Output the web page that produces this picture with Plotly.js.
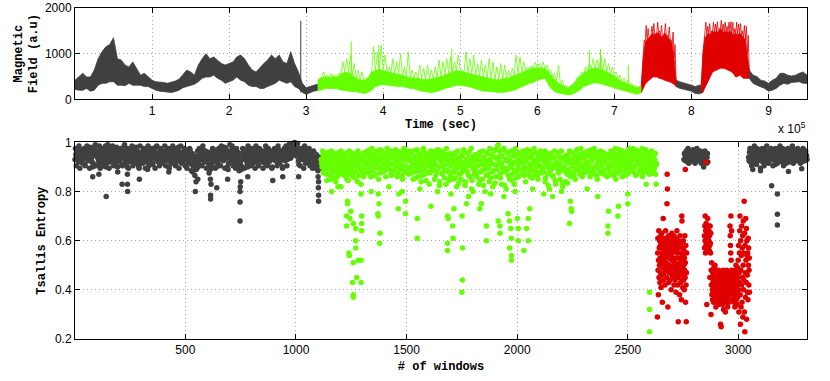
<!DOCTYPE html>
<html><head><meta charset="utf-8">
<script src="https://cdn.plot.ly/plotly-3.0.1.min.js"></script>
<style>html,body{margin:0;padding:0;background:#fff}#chart{width:830px;height:381px}</style>
</head><body><div id="chart"></div>
<script>
// ---------- TOP PANEL: magnetic field (time in units of 1e5 samples) ----------
// envelopes: lo = lower edge, band = top of solid band, peak = spike tops
const gray1Start = 0, gray1Dt = 0.05;
const gray1Lo = [220,200,200,240,180,200,310,350,350,385, 385,310,310,300,350,310,310,310,280,280,
  240,200,180,170,150,150,170,200,255,280, 310,330,385,460,490,490,530,460,420,350,
  385,420,490,420,385,310,280,280,240,240, 280,310,350,420,385,350,385,280,240,150, 110,150,180,200];
const gray1Hi = [420,500,570,490,490,640,890,1040,1150,1200, 1350,890,860,750,710,820,680,530,570,490,
  420,385,370,370,350,370,400,440,530,640, 600,530,750,890,1000,890,930,860,785,750,
  785,820,930,970,890,750,640,600,680,785, 860,970,890,970,820,785,1040,785,600,350, 255,280,310,330];

const greenStart = 3.15, greenDt = 0.05;
const greenLo = [200,200,240,240,255,240,200,200,180,180, 165,150,130,150,200,280,310,330,310,300,
  280,280,280,255,240,230,200,180,170,150, 150,170,200,240,255,280,310,310,300,280,
  255,240,200,180,180,170,150,150,150,170, 180,200,240,280,310,350,370,420,440,460,
  310,200,150,130,110,95,110,150,200,280, 310,350,370,350,330,310,280,255,225,200, 180,150,130,110,150];
const greenBand = [420,480,500,480,500,480,560,590,590,540, 460,430,410,460,600,630,660,630,600,580,
  560,550,530,500,480,460,450,440,430,440, 450,480,500,530,560,600,630,620,600,570,
  550,530,500,480,460,450,430,430,440,460, 480,530,550,590,630,660,690,690,680,680,
  600,480,390,330,280,250,300,400,500,570, 630,670,690,670,650,610,560,510,440,390, 350,310,280,250,300];
const greenPeak = [420,600,530,570,530,570,820,890,970,785, 640,600,460,500,1150,1040,1180,970,710,890,
  820,1000,710,1040,640,600,750,680,750,640, 710,860,820,890,930,820,970,640,1040,890,
  970,785,860,750,890,820,710,785,750,640, 680,970,930,820,710,750,820,785,820,750,
  640,570,750,420,310,280,350,490,600,710, 785,890,860,970,890,785,710,600,530,460, 420,350,310,280,310];

const red1Start = 7.35, red1Dt = 0.025;
const red1Lo = [150,250,330,380,420,460,490,490,490,470,460,440,420,410,400,380,350,330,280];
const red1Band = [300,900,1250,1300,1350,1400,1450,1400,1450,1450,1400,1350,1450,1400,1350,1300,1200,900,420];
const red1Peak = [600,1300,1620,1550,1300,1600,1660,1450,1690,1500,1620,1350,1660,1400,1585,1300,1475,1200,420];

const gray2Start = 7.8, gray2Dt = 0.05;
const gray2Lo = [280,240,220,200,180,130,120,150];
const gray2Hi = [420,385,350,330,310,280,310,300];

const red2Start = 8.125, red2Dt = 0.025;
const red2Lo = [150,160,250,330,420,500,600,620,640,660,680,680,680,660,640,620,600,550,490,500,530,500,460,460,460,460];
const red2Band = [300,1000,1350,1400,1450,1400,1500,1450,1500,1450,1550,1500,1450,1500,1450,1500,1450,1400,1450,1400,1450,1400,1350,1300,1000,640];
const red2Peak = [400,1260,1690,1600,1660,1500,1690,1650,1700,1550,1730,1650,1690,1600,1690,1700,1690,1550,1690,1650,1660,1500,1620,1600,1400,640];

const gray3Start = 8.75, gray3Dt = 0.05;
const gray3Lo = [460,350,310,280,240,180,200,240,310,350,330,370,385,385,350,350];
const gray3Hi = [640,530,500,420,400,350,420,460,570,570,530,510,530,570,600,530];

// isolated tall spikes
const spikeT = [2.93, 3.585, 3.944, 4.89, 6.675, 6.82, 7.18];
const spikeV = [1720, 1270, 1185, 1110, 1075, 1100, 760];

// ---------- BOTTOM PANEL: Tsallis entropy per window (values x100) ----------
const grayAStart = 1, grayAStep = 4;
const grayA = [].concat(
 [93,95,94,96,92,95,97,94,93,96,95,91,94,97,96,93,95,98,94,92,90,95,97,99,96],
 [94,96,91,95,97,94,92,96,95,93,90,97,99,95,92,96,94,97,95,93,91,96,98,90,94],
 [95,93,97,91,94,96,99,92,95,90,93,92,96,94,97,93,95,92,96,98,94,93,90,91,95],
 [96,93,95,97,94,92,95,89,96,94,97,93,95,91,94,96,98,93,95,92,94,97,95,93,96],
 [94,96,93,95,97,94,90,95,92,96,94,97,93,95,91,96,94,98,95,93,96,94,92,95,97],
 [95,93,96,94,92,97,95,91,88,94,93,90,89,92,90,94,96,93,95,97,94,92,96,95,93],
 [94,96,90,89,91,93,95,97,94,92,90,96,95,93,97,94,96,95,93,98,95,94,90,89,96],
 [99,95,93,97,94,96,92,95,93,96,91,90,92,89,90,94,96,93,95,97,90,94,92,96,95],
 [93,96,94,97,95,92,94,96,93,97,95,94,92,96,95,93,97,94,96,92,95,93,94,90,96],
 [94,96,93,95,92,97,94,96,95,93,90,95,97,94,96,93,95,98,96,94,97,99,95,100,97],
 [96,98,95,91,97,94,96,93,95,97,94,96,93,95,92,96,94,91,95,93,96,94,92,95,90],
 [93,91,94]);
const grayA2Start = 3, grayA2Step = 4;
const grayA2 = [].concat(
 [97.5,90.5,95.5,92.5,98.5,89.5,94.5,96.5,91.5,93.5,97.5,90.5,95.5,98.5,92.5,94.5,89.5,96.5,93.5,97.5,91.5,95.5,98.5,90.5,94.5],
 [96.5,92.5,98.5,89.5,95.5,93.5,97.5,90.5,94.5,98.5,91.5,96.5,93.5,89.5,97.5,95.5,92.5,98.5,90.5,94.5,96.5,91.5,97.5,93.5,95.5],
 [92.5,97.5,94.5,90.5,96.5,98.5,93.5,91.5,95.5,97.5,89.5,94.5,96.5,92.5,98.5,90.5,95.5,93.5,97.5,91.5,96.5,94.5,89.5,98.5,92.5],
 [95.5,91.5,97.5,93.5,89.5,96.5,94.5,98.5,90.5,92.5,95.5,97.5,91.5,94.5,96.5,89.5,93.5,98.5,92.5,95.5,90.5,97.5,94.5,96.5,91.5],
 [93.5,98.5,90.5,95.5,92.5,97.5,89.5,94.5,96.5,91.5,98.5,93.5,95.5,90.5,97.5,92.5,96.5,89.5,94.5,98.5,91.5,95.5,93.5,97.5,90.5],
 [96.5,89.5,94.5,91.5,97.5,93.5,88.5,95.5,90.5,92.5,86.5,94.5,89.5,96.5,91.5,97.5,93.5,95.5,90.5,98.5,94.5,92.5,96.5,89.5,95.5],
 [91.5,87.5,93.5,90.5,95.5,97.5,92.5,94.5,89.5,96.5,93.5,91.5,97.5,95.5,90.5,98.5,94.5,92.5,96.5,89.5,97.5,93.5,95.5,91.5,94.5],
 [96.5,92.5,98.5,90.5,95.5,93.5,89.5,97.5,91.5,94.5,88.5,92.5,90.5,95.5,97.5,93.5,89.5,96.5,94.5,91.5,98.5,92.5,95.5,90.5,97.5],
 [94.5,91.5,96.5,89.5,98.5,93.5,95.5,90.5,97.5,92.5,94.5,96.5,89.5,95.5,91.5,98.5,93.5,90.5,97.5,94.5,92.5,96.5,89.5,95.5,93.5],
 [97.5,92.5,95.5,90.5,98.5,94.5,91.5,96.5,93.5,89.5,95.5,97.5,92.5,98.5,90.5,96.5,94.5,99.5,93.5,97.5,98.5,95.5,99.5,96.5,98.5],
 [94.5,99.5,92.5,96.5,90.5,97.5,93.5,95.5,89.5,98.5,91.5,94.5,96.5,92.5,97.5,90.5,95.5,93.5,89.5,96.5,91.5,94.5,89.5,92.5,88.5],
 [91.5,89.5]);
const grayBStart = 2754, grayBStep = 4;
const grayB = [93,95,94,96,92,95,94,96,93,95,97,94,92,95,96,93,94,96,95,93,92,95,94,96,93,95,94,92];
const grayB2Start = 2756, grayB2Step = 4;
const grayB2 = [95.5,92.5,96.5,93.5,97.5,91.5,94.5,95.5,92.5,96.5,93.5,95.5,91.5,94.5,97.5,92.5,95.5,93.5,96.5,91.5,94.5,95.5,92.5,96.5,94.5,91.5,95.5];
const grayCStart = 3046, grayCStep = 4;
const grayC = [94,96,92,95,97,93,95,94,96,91,95,97,94,93,96,95,92,94,97,95,93,96,94,92,95,97,94,96,93,95,
  91,94,96,95,97,93,94,96,92,95,94,97,93,96,95,94,92,95,97,96,93,94,95,97,94,96,93,95,94,96,92,95,97,94,96,95,93];
const grayC2Start = 3048, grayC2Step = 4;
const grayC2 = [92.5,97.5,94.5,90.5,96.5,93.5,98.5,91.5,95.5,97.5, 92.5,94.5,96.5,89.5,93.5,97.5,95.5,90.5,96.5,92.5,
  98.5,94.5,91.5,96.5,93.5,97.5,95.5,90.5,94.5,92.5, 97.5,95.5,91.5,96.5,93.5,98.5,92.5,95.5,97.5,90.5,
  94.5,96.5,91.5,95.5,97.5,93.5,96.5,92.5,94.5,98.5, 91.5,95.5,96.5,93.5,92.5,97.5,94.5,96.5,91.5,95.5, 93.5,97.5,94.5,92.5,96.5,94.5];
const grayOutW = [81,109,142,194,214,238,239,238,292,425,545,548,556,614,614,616,613,642,691,747,747,747,748,750,782,895,940,1012,1102,1102,1101,1102,1100,
  3065,3100,3150,3176,3176,3176,3226,3286,2843];
const grayOutV = [86,87,78,88,83,83,80,87,85,88,80,84,85,77,78.5,83,85,81.5,85,68,75.7,80,82,84,86,84.5,86,86,76,78.5,81.5,84,86,
  89,88.5,82.4,79,70.8,66.4,88.2,89.3,90];

const greenStartW = 1114, greenStep = 4;
const greenVals = [].concat(
 [93,90,95,88,92,94,87,91,96,89,93,85,92,95,90,88,94,91,86,93,96,89,92,87,94],
 [90,95,88,92,85,94,91,87,96,89,93,86,91,95,88,92,84,94,90,87,95,89,93,86,92],
 [96,91,88,94,90,97,86,93,89,95,92,87,96,90,94,85,92,97,89,93,88,95,91,86,94],
 [92,96,89,94,87,91,95,88,93,97,90,86,94,92,96,89,91,85,95,93,88,96,90,94,87],
 [93,89,96,91,85,94,88,92,97,90,86,93,95,84,91,89,96,87,94,92,88,95,83,93,90],
 [96,89,93,85,91,95,88,97,90,84,94,92,87,96,89,93,83,91,95,88,92,86,94,90,85],
 [93,88,96,82,91,94,87,92,85,95,89,97,90,84,93,88,91,96,86,92,81,94,89,87,95],
 [90,86,93,83,96,88,91,85,94,89,80,92,96,87,90,84,93,95,88,82,91,97,86,94,89],
 [99,92,87,95,83,90,97,88,93,81,96,89,92,85,94,90,87,96,83,92,95,88,91,86,94],
 [96,89,93,87,95,90,84,92,97,88,94,86,91,95,89,93,87,96,90,92,85,94,88,93,90],
 [95,88,92,84,96,90,87,93,81,95,89,91,86,94,90,83,92,96,88,91,85,94,89,82,93],
 [90,84,93,87,95,89,92,86,96,91,88,94,85,92,97,89,93,87,95,90,86,94,91,88,96],
 [92,88,95,90,86,97,93,89,94,87,96,91,85,93,95,88,92,90,96,87,94,89,93,86,91],
 [95,90,87,94,92,96,88,91,85,95,93,89,97,90,94,86,92,96,88,93,91,87,95,89,94],
 [96,92,88,95,90,97,93,87,94,91,96,89,92,86,95,93,90,97,88,94,91,87,93,89,92],
 [95,89,93,87,91]);
const green2StartW = 1116, green2Step = 4;
const green2Vals = [].concat(
 [91.5,96.5,87.5,93.5,89.5,95.5,84.5,92.5,90.5,94.5,86.5,96.5,88.5,91.5,93.5,85.5,95.5,89.5,92.5,87.5,94.5,90.5,96.5,88.5,91.5],
 [93.5,86.5,95.5,89.5,91.5,84.5,96.5,88.5,92.5,90.5,94.5,87.5,95.5,85.5,93.5,89.5,96.5,91.5,86.5,94.5,88.5,92.5,95.5,87.5,90.5],
 [94.5,89.5,96.5,87.5,92.5,95.5,90.5,97.5,88.5,93.5,86.5,95.5,91.5,96.5,89.5,94.5,87.5,92.5,96.5,90.5,93.5,88.5,95.5,91.5,97.5],
 [89.5,94.5,91.5,96.5,86.5,93.5,88.5,95.5,90.5,92.5,96.5,87.5,94.5,89.5,91.5,95.5,86.5,93.5,97.5,90.5,88.5,94.5,92.5,96.5,89.5],
 [95.5,87.5,92.5,96.5,89.5,93.5,85.5,94.5,90.5,96.5,88.5,91.5,95.5,86.5,93.5,97.5,89.5,92.5,84.5,95.5,90.5,94.5,87.5,96.5,91.5],
 [88.5,94.5,91.5,96.5,86.5,93.5,89.5,95.5,82.5,92.5,96.5,87.5,94.5,90.5,85.5,93.5,97.5,88.5,92.5,84.5,95.5,90.5,87.5,94.5,91.5],
 [95.5,85.5,92.5,89.5,96.5,83.5,93.5,90.5,87.5,94.5,91.5,96.5,82.5,92.5,88.5,95.5,86.5,93.5,90.5,97.5,84.5,91.5,94.5,88.5,92.5],
 [87.5,94.5,90.5,95.5,84.5,92.5,88.5,96.5,82.5,93.5,90.5,86.5,95.5,89.5,92.5,97.5,85.5,91.5,94.5,88.5,96.5,83.5,93.5,90.5,98.5],
 [93.5,96.5,85.5,91.5,94.5,88.5,97.5,82.5,92.5,89.5,95.5,86.5,93.5,90.5,96.5,84.5,91.5,94.5,88.5,97.5,85.5,92.5,89.5,95.5,91.5],
 [91.5,94.5,88.5,96.5,86.5,92.5,95.5,89.5,93.5,87.5,96.5,90.5,94.5,85.5,92.5,97.5,88.5,91.5,95.5,86.5,93.5,90.5,96.5,87.5,94.5],
 [89.5,93.5,96.5,85.5,91.5,94.5,82.5,92.5,88.5,95.5,90.5,86.5,93.5,96.5,84.5,91.5,89.5,95.5,87.5,93.5,90.5,96.5,83.5,92.5,88.5],
 [94.5,88.5,91.5,83.5,93.5,96.5,87.5,92.5,90.5,95.5,86.5,93.5,89.5,96.5,91.5,94.5,88.5,92.5,97.5,90.5,95.5,87.5,93.5,89.5,94.5],
 [89.5,96.5,91.5,94.5,87.5,92.5,95.5,88.5,97.5,90.5,93.5,86.5,95.5,89.5,92.5,96.5,87.5,94.5,91.5,88.5,95.5,92.5,86.5,94.5,90.5],
 [93.5,88.5,96.5,90.5,94.5,86.5,92.5,97.5,89.5,93.5,87.5,95.5,91.5,94.5,88.5,96.5,90.5,93.5,86.5,95.5,89.5,92.5,97.5,88.5,91.5],
 [90.5,94.5,97.5,89.5,93.5,86.5,95.5,91.5,96.5,88.5,93.5,90.5,97.5,87.5,94.5,91.5,96.5,89.5,92.5,95.5,88.5,94.5,90.5,96.5,87.5],
 [93.5,89.5,95.5,91.5]);
const greenOutW = [1161,1203,1233,1233,1229,1244,1229,1248,1259,1270,1270,1270,1239,1241,1259,1282,1294,1256,1274,1294,1259,1259,
  1297,1297,1297,1294,1294,1372,1372,1380,1378,1375,1370,1462,1495,1495,1465,1548,1548,1610,1685,1685,1685,1688,1708,1710,1714,
  1751,1753,1752,1750,1771,1831,1838,1861,1861,1914,1922,1922,1959,1965,1971,1973,1966,1974,1974,2001,2005,2005,2030,2042,2050,
  2050,2057,2236,2244,2246,2240,2316,2364,2410,2410,2413,2455,2458,2500,2500,2583,2598,2598,2598,2628,
  1180,1190,1340,1420,1480,1560,1640,1700,1780,1800,1880,1940,1990,2070,2120,2160,2200];
const greenOutV = [80,82,76,75,70,69,66,72,67,65,60,57,55,54,51,52,52,43,45,43,38,37,
  70,67,64,79,83,79,70,63,59,75,71,73,71,76,79,69,61,74,56,59,70,69,66,61,73,
  70,57,44,39,75,73,75,66,60,68,66,63,71,68,65,61,57,54,52,69,65,60,56,65,60,
  69,73,67,73,72,76,81,78,66,63,72,70,74,75,79,83,39,32,23,83,
  84,82,80,82,80,81,80,79,78,80,79,78,80,81,79,78,80];

const red1StartW = 2634, red1Step = 1;
const red1Vals = [29,55,61,48,38,52,64,45,57,50, 60,43,53,58,47,62,41,55,51,63, 46,58,35,54,60,49,69,44,56,52,
  61,47,57,50,42,59,53,64,48,55, 51,45,60,75,87,81,54,33,49,58, 62,43,56,50,47,59,53,44,61,57,
  48,54,40,58,52,63,46,55,49,60, 45,53,57,50,62,42,56,48,59,51, 44,58,47,61,39,53,56,49,64,46,
  55,42,57,50,27,60,47,53,45,58, 38,51,62,48,55,43,59,46,36,52, 70,68,49,57,41,54,47,60,44,50,
  56,40,53,48,62,45,51,35,58,42, 27,47,55];
const red2StartW = 2846, red2Step = 1;
const red2Vals = [62,57,66,60,70,55,64,58,67,61, 59,34,65,56,63,69,58,61,57,66, 60,64,56,62,58,45,66,59,55,63,
  30,48,42,51,38,45,40,36,47,43, 39,44,35,49,41,46,37,42,50,38, 45,40,33,47,43,39,48,36,44,41,
  37,46,42,34,48,40,45,38,43,35, 47,41,39,26,44,36,25,42,46,38, 40,34,45,37,43,48,39,32,44,41,
  36,47,42,38,45,31,40,46,35,43, 39,48,37,44,41,33,46,38,42,36, 45,40,35,47,43,38,66,62,58,55,
  70,52,48,64,44,38,41,36,46,39, 43,47,37,42,35,45,40,48,33,44, 38,46,41,50,36,43,39,47,34,42,
  49,37,45,52,40,58,31,47,43,55, 64,70,38,26,60,48,33,54,42,66, 35,57,45,62,29,50,68,40,55,44,
  76,31,63,23,58,47,37,69,52,43, 65,28,60,54,46,39,55,36,61,50, 57,42,48,53,39];
const redOutW = [2760, 2854];
const redOutV = [89, 92];

// tick labels
const topXTicks = [1,2,3,4,5,6,7,8,9];
const topYTicks = [0,1000,2000];
const botXTicks = [500,1000,1500,2000,2500,3000];
const botYTicks = [0.2,0.4,0.6,0.8,1];
const botYText = ['0.2','0.4','0.6','0.8','1'];

// ---------- build ----------
const GRAY = '#404040', GREEN = '#66ff00', RED = '#e00000';
const traces = [];
const segs = [];
function addSeg(start, dt, lo, band, peak, color) {
  const t = lo.map((_, i) => start + i * dt);
  segs.push({start, dt, lo, end: t[t.length - 1], color});
  traces.push({x: t.concat(t.slice().reverse()), y: lo.concat(band.slice().reverse()),
    type: 'scatter', mode: 'lines', fill: 'toself', fillcolor: color,
    line: {color: color, width: 0.8}, hoverinfo: 'skip', xaxis: 'x', yaxis: 'y', showlegend: false});
  if (peak) {
    const zx = [], zy = [];
    t.forEach((ti, i) => { zx.push(ti, ti + dt / 2); zy.push(band[i], peak[i]); });
    traces.push({x: zx, y: zy, type: 'scatter', mode: 'lines', line: {color: color, width: 0.8},
      hoverinfo: 'skip', xaxis: 'x', yaxis: 'y', showlegend: false});
  }
}
addSeg(gray1Start, gray1Dt, gray1Lo, gray1Hi, null, GRAY);
addSeg(greenStart, greenDt, greenLo, greenBand, greenPeak, GREEN);
addSeg(gray2Start, gray2Dt, gray2Lo, gray2Hi, null, GRAY);
addSeg(red1Start, red1Dt, red1Lo, red1Band, red1Peak, RED);
addSeg(red2Start, red2Dt, red2Lo, red2Band, red2Peak, RED);
addSeg(gray3Start, gray3Dt, gray3Lo, gray3Hi, null, GRAY);
spikeT.forEach((ts, k) => {
  const s = segs.find(sg => ts >= sg.start && ts <= sg.end);
  const base = s.lo[Math.round((ts - s.start) / s.dt)];
  traces.push({x: [ts, ts], y: [base, spikeV[k]], type: 'scatter', mode: 'lines',
    line: {color: s.color, width: 1}, hoverinfo: 'skip', xaxis: 'x', yaxis: 'y', showlegend: false});
});

function seq(start, step, vals) { return {x: vals.map((_, i) => start + i * step), y: vals.map(v => v / 100)}; }
function pts(parts, color) {
  let x = [], y = [];
  parts.forEach(p => { x = x.concat(p.x); y = y.concat(p.y); });
  traces.push({x, y, type: 'scatter', mode: 'markers', cliponaxis: false,
    marker: {color: color, size: 5.5, line: {width: 0}}, xaxis: 'x2', yaxis: 'y2', showlegend: false, hoverinfo: 'skip'});
}
pts([seq(grayAStart, grayAStep, grayA), seq(grayA2Start, grayA2Step, grayA2),
     seq(grayBStart, grayBStep, grayB), seq(grayB2Start, grayB2Step, grayB2),
     seq(grayCStart, grayCStep, grayC), seq(grayC2Start, grayC2Step, grayC2),
     {x: grayOutW, y: grayOutV.map(v => v / 100)}], GRAY);
pts([seq(greenStartW, greenStep, greenVals), seq(green2StartW, green2Step, green2Vals),
     {x: greenOutW, y: greenOutV.map(v => v / 100)}], GREEN);
pts([seq(red1StartW, red1Step, red1Vals), seq(red2StartW, red2Step, red2Vals), {x: redOutW, y: redOutV.map(v => v / 100)}], RED);

const tickFont = {family: 'Liberation Sans, Arial, sans-serif', size: 12, color: '#000'};
const titleFont = {family: 'Liberation Mono, Courier New, monospace', size: 12, color: '#000'};
const ax = {showline: true, linecolor: '#000', linewidth: 1, mirror: 'ticks', ticks: 'inside', ticklen: 5,
  tickcolor: '#000', showgrid: true, gridcolor: '#a8a8a8', griddash: '1px,3px', gridwidth: 1, zeroline: false,
  tickfont: tickFont, fixedrange: true};

const layout = {
  width: 830, height: 381, paper_bgcolor: '#fff', plot_bgcolor: '#fff',
  margin: {l: 75, r: 23, t: 8, b: 42}, showlegend: false,
  xaxis: Object.assign({}, ax, {domain: [0, 1], anchor: 'y', range: [0, 9.5], tickvals: topXTicks,
    title: {text: '<b>Time (sec)</b>', font: titleFont, standoff: 2}}),
  yaxis: Object.assign({}, ax, {domain: [0.724, 1], anchor: 'x', range: [0, 2000], tickvals: topYTicks,
    title: {text: '<b>Magnetic<br>Field (a.u)</b>', font: titleFont, standoff: 4}}),
  xaxis2: Object.assign({}, ax, {domain: [0, 1], anchor: 'y2', range: [1, 3310], tickvals: botXTicks,
    title: {text: '<b># of windows</b>', font: titleFont, standoff: 5}}),
  yaxis2: Object.assign({}, ax, {domain: [0, 0.594], anchor: 'x2', range: [0.2, 1], tickvals: botYTicks, ticktext: botYText,
    title: {text: '<b>Tsallis Entropy</b>', font: titleFont, standoff: 6}}),
  annotations: [{text: 'x 10<sup>5</sup>', xref: 'paper', yref: 'paper', x: 1.002, y: 0.637,
    xanchor: 'right', yanchor: 'middle', showarrow: false, font: tickFont}]
};
Plotly.newPlot('chart', traces, layout, {staticPlot: true, displayModeBar: false});
</script></body></html>
